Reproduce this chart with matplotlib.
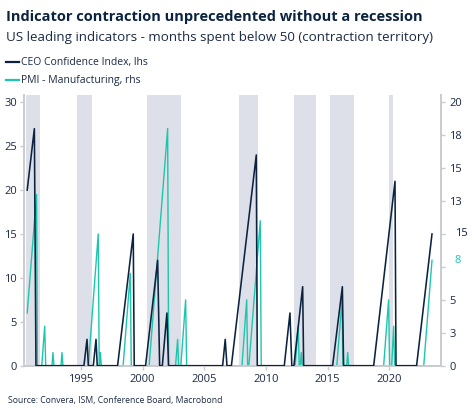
import matplotlib
matplotlib.use("Agg")
import matplotlib.pyplot as plt
from matplotlib.lines import Line2D

plt.rcParams['font.family'] = ['Open Sans', 'DejaVu Sans']

# ---------------- data ----------------
# CEO Confidence Index: months spent below 50 (left axis), line vertices
ceo_years = [1990.64, 1991.22, 1991.35, 1995.24, 1995.49, 1995.60, 1996.00, 1996.22, 1996.32,
             1997.97, 1999.24, 1999.32, 2000.24, 2001.22, 2001.38, 2001.60, 2001.97, 2002.10,
             2006.49, 2006.70, 2006.84, 2007.20, 2009.22, 2009.30, 2011.49, 2011.95, 2012.10,
             2012.27, 2012.98, 2013.06, 2015.41, 2016.20, 2016.30, 2018.74, 2020.47, 2020.55,
             2022.22, 2023.47]
ceo_values = [20, 27, 0, 0, 3, 0, 0, 3, 0,
              0, 15, 0, 0, 12, 0, 0, 6, 0,
              0, 3, 0, 0, 24, 0, 0, 6, 0,
              0, 9, 0, 0, 9, 0, 0, 21, 0,
              0, 15]

# PMI Manufacturing: months spent below 50 (right axis), line vertices
pmi_years = [1990.64, 1991.40, 1991.47, 1991.82, 1992.06, 1992.14, 1992.65, 1992.73, 1992.81,
             1993.38, 1993.46, 1993.54, 1995.60, 1996.40, 1996.48, 1996.50, 1996.57, 1996.65,
             1998.42, 1999.00, 1999.08, 2000.53, 2002.03, 2002.11, 2002.67, 2002.84, 2002.92,
             2003.10, 2003.49, 2003.57, 2008.06, 2008.44, 2008.52, 2008.62, 2009.54, 2009.62,
             2012.37, 2012.62, 2012.70, 2012.79, 2012.87, 2012.95, 2015.75, 2016.17, 2016.25,
             2016.55, 2016.63, 2016.71, 2019.55, 2019.95, 2020.03, 2020.20, 2020.36, 2020.44,
             2022.80, 2023.47]
pmi_values = [4, 13, 0, 0, 3, 0, 0, 1, 0,
              0, 1, 0, 0, 10, 0, 0, 1, 0,
              0, 7, 0, 0, 18, 0, 0, 2, 0,
              0, 5, 0, 0, 5, 0, 0, 11, 0,
              0, 3, 0, 0, 1, 0, 0, 5, 0,
              0, 1, 0, 0, 5, 0, 0, 3, 0,
              0, 8]

# shaded periods
band_start = [1990.54, 1994.70, 2000.38, 2007.84, 2012.27, 2015.19, 2020.00]
band_end   = [1991.67, 1995.92, 2003.11, 2009.36, 2014.08, 2017.14, 2020.33]

x_ticks = [1995, 2000, 2005, 2010, 2015, 2020]
left_ticks = [0, 5, 10, 15, 20, 25, 30]
right_ticks = [0, 2.5, 5, 7.5, 10, 12.5, 15, 17.5, 20]
right_labels = ["0", "3", "5", "", "", "13", "15", "18", "20"]

title = "Indicator contraction unprecedented without a recession"
subtitle = "US leading indicators - months spent below 50 (contraction territory)"
legend_labels = ["CEO Confidence Index, lhs", "PMI - Manufacturing, rhs"]
source = "Source: Convera, ISM, Conference Board, Macrobond"

# ---------------- style ----------------
NAVY = "#0b2341"
TEAL = "#1cc6ad"
BAND = "#dde0e8"
SPINE = "#c9cbd0"
TXT = "#1b2a45"

W, H = 474, 416
fig = plt.figure(figsize=(W / 100, H / 100), dpi=100)
ax = fig.add_axes([24 / W, 1 - 365.7 / H, (441 - 24) / W, (365.7 - 95) / H])
ax2 = ax.twinx()

for s, e in zip(band_start, band_end):
    ax2.axvspan(s, e, color=BAND, lw=0, zorder=0)

ax2.plot(pmi_years, pmi_values, color=TEAL, lw=1.0, zorder=3)
ax.plot(ceo_years, ceo_values, color=NAVY, lw=1.15, zorder=4)
ax.set_zorder(ax2.get_zorder() + 1)
ax.patch.set_visible(False)

ax.set_xlim(1990.38, 2024.2)
ax.set_ylim(0, 30.83)
ax2.set_ylim(0, 20.55)

ax.set_xticks(x_ticks)
ax.set_xticklabels([str(t) for t in x_ticks])
ax.set_yticks(left_ticks)
ax2.set_yticks(right_ticks)
ax2.set_yticklabels(right_labels)

for a in (ax, ax2):
    a.spines["top"].set_visible(False)
    for side in ("left", "right", "bottom"):
        a.spines[side].set_color(SPINE)
        a.spines[side].set_linewidth(1.2)
    a.tick_params(colors=SPINE, labelcolor=TXT, labelsize=8, length=3, width=1)
ax.tick_params(axis='x', pad=3)
ax.tick_params(axis='y', pad=2)
ax2.tick_params(axis='y', pad=3)

# last-value labels on right axis
ax2.annotate(str(ceo_values[-1]), xy=(1, ceo_values[-1] / 1.5), xycoords=('axes fraction', 'data'),
             xytext=(10, 0), textcoords='offset points', color=NAVY, fontsize=8, va='center', ha='left')
ax2.annotate(str(pmi_values[-1]), xy=(1, pmi_values[-1]), xycoords=('axes fraction', 'data'),
             xytext=(10, 0), textcoords='offset points', color=TEAL, fontsize=8, va='center', ha='left')

# titles
fig.text(6 / W, 1 - 17 / H, title, fontsize=10.5, fontweight='bold', color=NAVY, va='center', ha='left')
fig.text(6 / W, 1 - 37 / H, subtitle, fontsize=9.6, color=TXT, va='center', ha='left')

# legend
for i, (lab, col) in enumerate(zip(legend_labels, [NAVY, TEAL])):
    yy = 1 - (62 + 18 * i) / H
    fig.add_artist(Line2D([6 / W, 19 / W], [yy, yy], color=col, lw=1.6))
    fig.text(21 / W, yy, lab, fontsize=7.45, color=TXT, va='center', ha='left')

fig.text(8 / W, 1 - 401 / H, source, fontsize=6.2, color=TXT, va='center', ha='left')

fig.savefig("out.png", dpi=100)
